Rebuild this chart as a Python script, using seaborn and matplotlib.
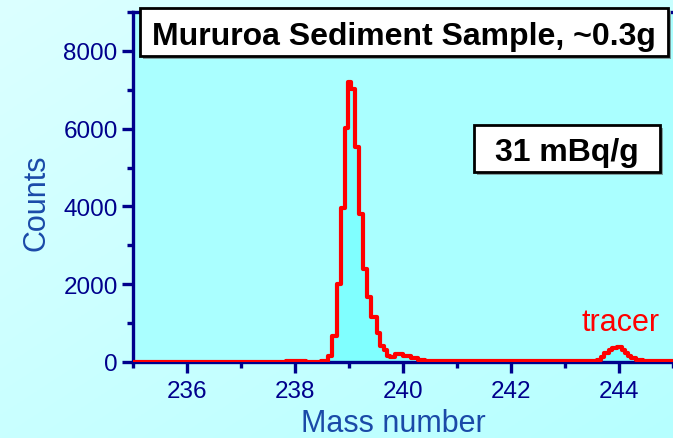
import numpy as np
import matplotlib
matplotlib.use("Agg")
import matplotlib.pyplot as plt
from matplotlib.patches import Rectangle
import seaborn as sns

# Spectrum channels: bin edges (mass number) and counts per bin
mass_edges = [235.00, 237.84, 238.09, 238.21, 238.49, 238.61, 238.69, 238.77,
              238.85, 238.92, 238.98, 239.04, 239.11, 239.18, 239.26, 239.34,
              239.41, 239.51, 239.57, 239.64, 239.70, 239.76, 239.86, 240.00,
              240.15, 240.28, 240.40, 240.75, 240.95, 241.20, 241.60, 242.10,
              242.50, 243.00, 243.60, 243.66, 243.72, 243.81, 243.87, 243.96,
              244.05, 244.11, 244.17, 244.23, 244.32, 244.44, 245.00]
counts = [5, 20, 35, 10, 35, 160, 680,
          2000, 3950, 6030, 7200, 7010, 5520, 3800, 2390,
          1660, 1170, 740, 420, 310, 160, 130, 200,
          165, 95, 50, 20, 30, 15, 25, 15,
          25, 15, 20, 50, 120, 230, 316, 360,
          380, 308, 230, 160, 100, 50, 20]

x_major = [236, 238, 240, 242, 244]
y_major = [0, 2000, 4000, 6000, 8000]

title_text = "Mururoa Sediment Sample, ~0.3g"
activity_text = "31 mBq/g"
tracer_text = "tracer"

assert len(counts) == len(mass_edges) - 1
edges = np.asarray(mass_edges)
centers = (edges[:-1] + edges[1:]) / 2

sns.set_style("ticks")
plt.rcParams["font.family"] = ["Liberation Sans", "DejaVu Sans"]

navy = "#00008c"
label_blue = "#1a4aa8"

fig = plt.figure(figsize=(6.73, 4.39), dpi=100)

# soft cyan gradient behind everything
bg = fig.add_axes([0, 0, 1, 1], zorder=-10)
gx, gy = np.meshgrid(np.linspace(0, 1, 200), np.linspace(0, 1, 200))
t = (gx + gy) / 2
c0 = np.array([0xdc, 0xff, 0xff]) / 255
c1 = np.array([0xb6, 0xff, 0xff]) / 255
img = c0[None, None, :] * (1 - t[..., None]) + c1[None, None, :] * t[..., None]
bg.imshow(img, extent=[0, 1, 0, 1], aspect="auto", origin="upper")
bg.set_axis_off()

ax = fig.add_axes([133 / 673, 1 - 363 / 439, 540 / 673, 350 / 439])
ax.set_facecolor("#aaffff")

sns.histplot(x=centers, weights=counts, bins=list(mass_edges), element="step",
             fill=True, color="#80ffff", alpha=1, linewidth=0, ax=ax)
sns.histplot(x=centers, weights=counts, bins=list(mass_edges), element="step",
             fill=False, color="#ff0000", linewidth=3.0, ax=ax, zorder=4)

ax.set_xlim(235, 245)
ax.set_ylim(0, 9000)
ax.set_xticks(x_major)
ax.set_xticks(np.arange(235, 246, 1), minor=True)
ax.set_yticks(y_major)
ax.set_yticks(np.arange(1000, 9001, 2000), minor=True)
ax.set_xticklabels([str(v) for v in x_major])
ax.set_yticklabels([str(v) for v in y_major])

ax.spines["right"].set_visible(False)
for side in ("left", "bottom", "top"):
    ax.spines[side].set_color(navy)
    ax.spines[side].set_linewidth(2.4)

ax.tick_params(axis="both", which="major", direction="out", length=8,
               width=2.4, color=navy, labelcolor=navy, labelsize=17.5, pad=3)
ax.tick_params(axis="both", which="minor", direction="out", length=4.5,
               width=2.4, color=navy)
ax.tick_params(axis="x", which="major", pad=5)
ax.tick_params(top=False, which="both")

ax.set_xlabel("Mass number", fontsize=22, color=label_blue, va="baseline")
ax.set_ylabel("Counts", fontsize=22, color=label_blue, va="baseline")
ax.xaxis.set_label_coords(0.4815, -0.197)
ax.yaxis.set_label_coords(-0.163, 0.4586)

ax.text(244.03, 820, tracer_text, color="#ff0000", fontsize=22,
        ha="center", va="baseline")

# boxed headings in figure pixel coordinates
def boxed(x0, y0, x1, y1, text, size):
    W, H = 673, 439
    fig.patches.append(Rectangle((x0 / W + 0.004, 1 - y1 / H - 0.006),
                                 (x1 - x0) / W, (y1 - y0) / H,
                                 transform=fig.transFigure, facecolor="#7fa0a0",
                                 edgecolor="none", zorder=5))
    fig.patches.append(Rectangle((x0 / W, 1 - y1 / H), (x1 - x0) / W, (y1 - y0) / H,
                                 transform=fig.transFigure, facecolor="white",
                                 edgecolor="black", linewidth=2, zorder=6))
    fig.text((x0 + x1) / 2 / W, 1 - (y0 + y1) / 2 / H, text, fontsize=size,
             fontweight="bold", color="black", ha="center", va="center_baseline",
             zorder=7)

boxed(140, 9, 668, 57, title_text, 23)
boxed(474, 126, 660, 173, activity_text, 23)

fig.savefig("out.png", dpi=100)
